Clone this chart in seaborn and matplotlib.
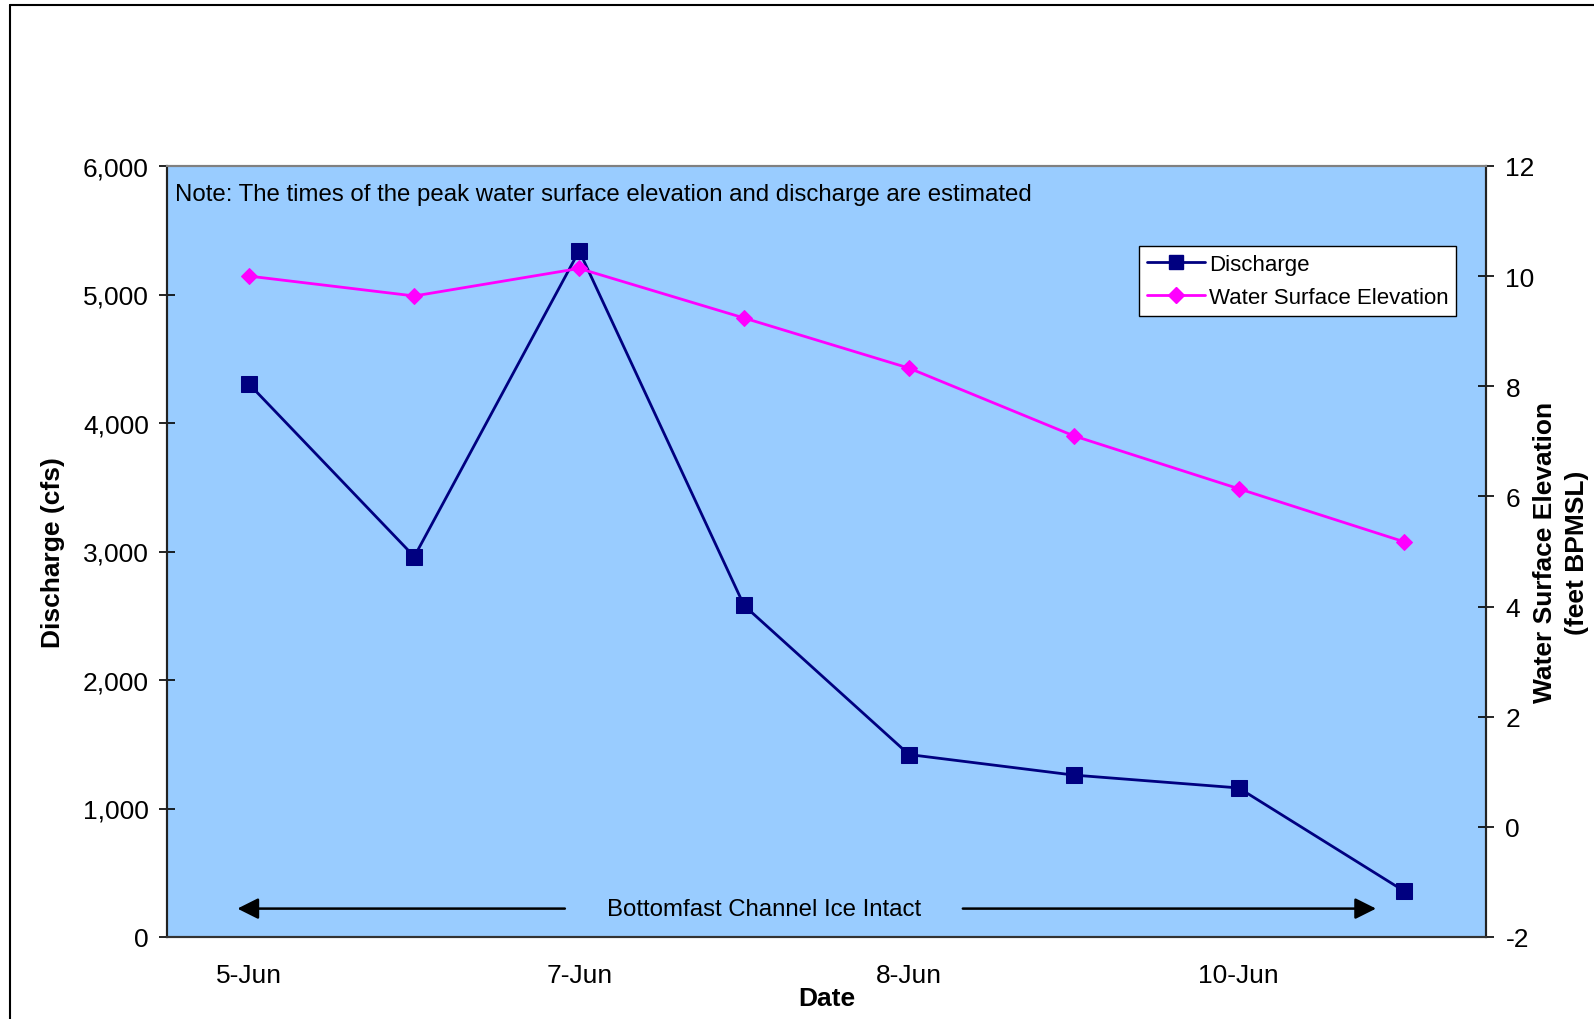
import matplotlib
matplotlib.use("Agg")
import matplotlib.pyplot as plt
import seaborn as sns
import pandas as pd
from matplotlib.lines import Line2D

sns.set_theme(style="white")
plt.rcParams['font.family'] = ['Liberation Sans', 'DejaVu Sans']
plt.rcParams['axes.unicode_minus'] = False
plt.rcParams['text.color'] = 'black'
plt.rcParams['axes.labelcolor'] = 'black'
plt.rcParams['xtick.color'] = 'black'
plt.rcParams['ytick.color'] = 'black'

positions = [0, 1, 2, 3, 4, 5, 6, 7]
tick_labels = ["5-Jun", "", "7-Jun", "", "8-Jun", "", "10-Jun", ""]
discharge = [4300, 2960, 5340, 2580, 1420, 1260, 1160, 360]
elevation = [10.0, 9.64, 10.14, 9.24, 8.33, 7.10, 6.14, 5.18]

df = pd.DataFrame({"pos": positions, "Discharge": discharge,
                   "Water Surface Elevation": elevation})

fig = plt.figure(figsize=(15.94, 10.2), dpi=100)
ax = fig.add_axes([167/1594, 1-938/1020, (1486-167)/1594, (938-167)/1020])
ax.set_facecolor("#99CCFF")
ax2 = ax.twinx()

sns.lineplot(data=df, x="pos", y="Discharge", ax=ax, color="#000080",
             marker="s", markersize=11, markeredgecolor="#000080", lw=2,
             label="Discharge", legend=False)
sns.lineplot(data=df, x="pos", y="Water Surface Elevation", ax=ax2, color="#FF00FF",
             marker="D", markersize=8, markeredgecolor="#FF00FF", lw=2,
             label="Water Surface Elevation", legend=False)

ax.set_xlim(-0.5, 7.5)
ax.set_ylim(0, 6000)
ax2.set_ylim(-2, 12)
yt = [0, 1000, 2000, 3000, 4000, 5000, 6000]
ax.set_yticks(yt)
ax.set_yticklabels([f"{v:,}" for v in yt])
ax2.set_yticks([-2, 0, 2, 4, 6, 8, 10, 12])
ax.set_xticks(positions)
ax.set_xticklabels(tick_labels)

FS = 19
ax.tick_params(axis='y', direction='inout', length=12, width=1.2, labelsize=FS, pad=7, left=True)
ax.tick_params(axis='x', length=0, labelsize=FS, pad=19)
ax2.tick_params(axis='y', direction='inout', length=12, width=1.2, labelsize=FS, pad=8, right=True)

for a in (ax, ax2):
    for s in a.spines.values():
        s.set_visible(True)
        s.set_linewidth(1.5)
    a.spines['left'].set_color("#222222")
    a.spines['right'].set_color("#222222")
    a.spines['bottom'].set_color("#333333")
    a.spines['top'].set_color("#808080")
    a.grid(False)

ax.set_xlabel("Date", fontsize=FS, fontweight="bold")
ax.xaxis.set_label_coords(0.5, (938-999)/771)
ax.xaxis.label.set(va="center", ha="center")
ax.set_ylabel("Discharge (cfs)", fontsize=FS, fontweight="bold")
ax.yaxis.set_label_coords((53-167)/1319, 0.5)
ax.yaxis.label.set(va="center", ha="center")
ax2.set_ylabel("Water Surface Elevation\n(feet BPMSL)", fontsize=FS, fontweight="bold",
               rotation=90, linespacing=1.4)
ax2.yaxis.set_label_coords((1561-167)/1319, 0.5)
ax2.yaxis.label.set(va="center", ha="center", rotation_mode="default")

ax.text(0.006, 0.978, "Note: The times of the peak water surface elevation and discharge are estimated",
        transform=ax.transAxes, fontsize=17.3, va="top", ha="left")

# Arrow annotation
ypos = 221
arrow_kw = dict(arrowstyle='-|>', mutation_scale=32, color='black', lw=1.8)
ax.annotate("", xy=(-0.09, ypos), xytext=(1.93, ypos), arrowprops=arrow_kw)
ax.annotate("", xy=(6.85, ypos), xytext=(4.31, ypos), arrowprops=arrow_kw)
ax.text(3.12, ypos, "Bottomfast Channel Ice Intact", fontsize=17.3, ha="center", va="center")

# Legend
handles = [Line2D([], [], color="#000080", marker="s", markersize=10, lw=2),
           Line2D([], [], color="#FF00FF", marker="D", markersize=8, lw=2)]
leg = ax.legend(handles, ["Discharge", "Water Surface Elevation"],
                loc="upper left", bbox_to_anchor=((1139-167)/1319, 1-(247-167)/771),
                fontsize=16, frameon=True, fancybox=False, framealpha=1,
                edgecolor="black", borderpad=0.35, handlelength=2.6, handletextpad=0.2,
                labelspacing=0.55, borderaxespad=0)
leg.get_frame().set_linewidth(1.0)
leg.set_zorder(10)

# Outer border (left and top visible)
fig.add_artist(Line2D([10/1594, 10/1594], [0, 1-6/1020], color="black", lw=1.5, transform=fig.transFigure))
fig.add_artist(Line2D([10/1594, 1], [1-6/1020, 1-6/1020], color="black", lw=1.5, transform=fig.transFigure))

fig.savefig("out.png", dpi=100)
